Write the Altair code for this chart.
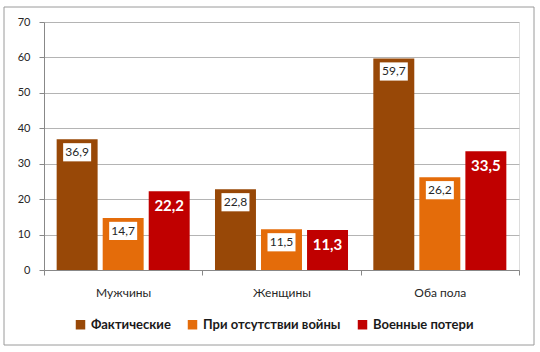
import altair as alt
import pandas as pd

categories = ["Мужчины", "Женщины", "Оба пола"]
series = ["Фактические", "При отсутствии войны", "Военные потери"]
actual = [36.9, 22.8, 59.7]
no_war = [14.7, 11.5, 26.2]
war_loss = [22.2, 11.3, 33.5]
y_ticks = [0, 10, 20, 30, 40, 50, 60, 70]
colors = ["#984807", "#E46C0A", "#C00000"]

rows = []
for i, c in enumerate(categories):
    for s, vals in zip(series, [actual, no_war, war_loss]):
        v = vals[i]
        rows.append({"cat": c, "series": s, "value": v,
                     "label": f"{v:.1f}".replace(".", ",")})
df = pd.DataFrame(rows)

FONT = "Lato"

x = alt.X("cat:N", sort=categories, title=None,
          scale=alt.Scale(paddingInner=0, paddingOuter=0),
          axis=alt.Axis(labelAngle=0, labelFontSize=12, labelColor="#262626",
                        labelFont=FONT, labelPadding=12, tickBand="extent",
                        tickSize=5, tickColor="#888888", domainColor="#888888",
                        grid=False))
xo = alt.XOffset("series:N", sort=series,
                 scale=alt.Scale(paddingInner=0.11, paddingOuter=0.275))
y = alt.Y("value:Q", title=None,
          scale=alt.Scale(domain=[0, 70], nice=False),
          axis=alt.Axis(values=y_ticks, labelFontSize=11, labelOverlap=False,
                        labelColor="#262626", labelFont=FONT, labelPadding=9,
                        tickSize=5, tickColor="#888888", domainColor="#888888",
                        gridColor="#B4B4B4", gridWidth=1))

bars = alt.Chart(df).mark_bar().encode(
    x=x, xOffset=xo, y=y,
    color=alt.Color("series:N", sort=series,
                    scale=alt.Scale(domain=series, range=colors),
                    legend=alt.Legend(title=None, orient="none", direction="horizontal",
                                      legendX=30, legendY=296, symbolType="square",
                                      symbolSize=90, symbolStrokeWidth=0,
                                      labelFont=FONT, labelFontSize=13,
                                      labelFontWeight="bold", labelColor="#1A1A1A",
                                      columnPadding=15, labelOffset=4,
                                      labelLimit=300)),
)

boxed = df[df["series"] != "Военные потери"]
red = df[df["series"] == "Военные потери"]

boxes = alt.Chart(boxed).mark_point(
    shape="M-1,-0.65H1V0.65H-1Z", size=784, filled=True, fill="white",
    opacity=1, strokeWidth=0, yOffset=13,
).encode(x=x, xOffset=xo, y=y)

box_text = alt.Chart(boxed).mark_text(
    font=FONT, fontSize=12, color="#262626", yOffset=13, baseline="middle",
).encode(x=x, xOffset=xo, y=y, text="label:N")

red_text = alt.Chart(red).mark_text(
    font=FONT, fontSize=15, fontWeight="bold", color="white", yOffset=15,
    baseline="middle",
).encode(x=x, xOffset=xo, y=y, text="label:N")

border = alt.Chart(pd.DataFrame({"a": [0]})).mark_rect(
    fill=None, stroke="#9A9A9A", strokeWidth=1,
).encode(x=alt.value(-40), x2=alt.value(490), y=alt.value(-15), y2=alt.value(323))

chart = alt.layer(border, bars, boxes, box_text, red_text).properties(
    width=475, height=248,
    padding={"left": 44, "top": 22, "right": 21, "bottom": 82},
    autosize=alt.AutoSizeParams(type="none"),
).configure_view(stroke=None).configure(background="white")

chart.save("out.html", embed_options={"renderer": "svg", "actions": False})
